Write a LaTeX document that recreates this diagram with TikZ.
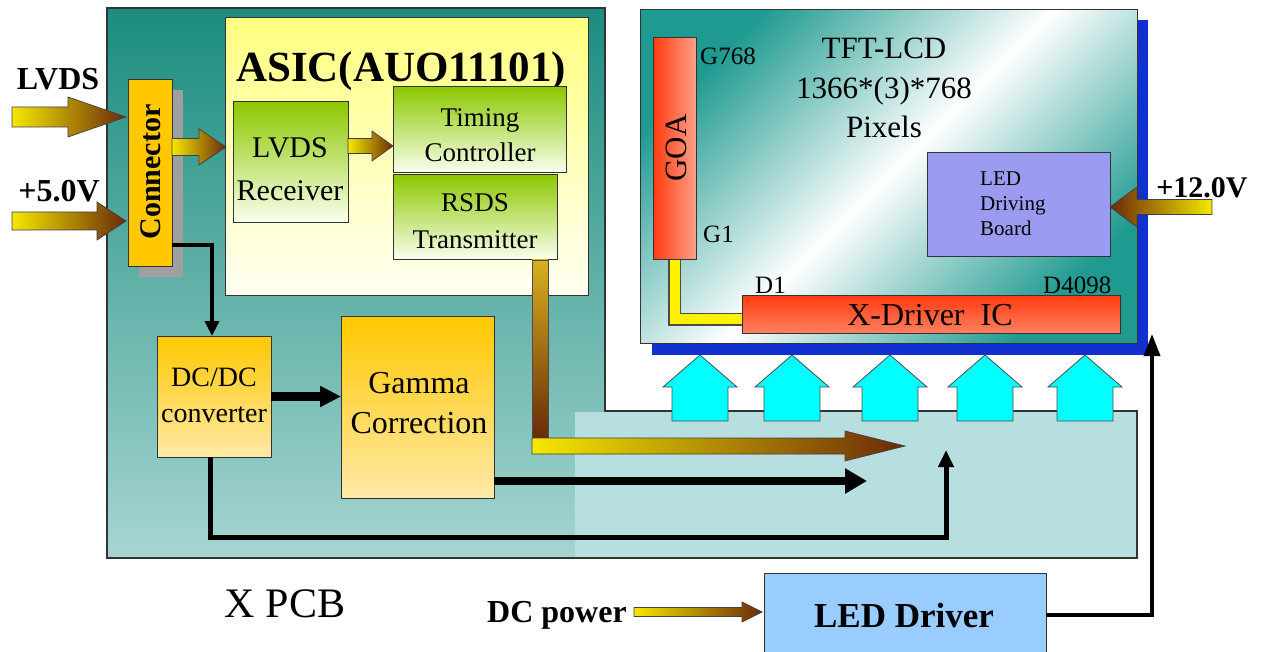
\documentclass[tikz,border=0pt]{standalone}
\usepackage{fontspec}
\setmainfont{Liberation Serif}
\usetikzlibrary{arrows.meta}
\definecolor{pcbtop}{HTML}{1B8C7E}
\definecolor{pcbbot}{HTML}{A6D5D1}
\definecolor{pcbext}{HTML}{B8DFE0}
\definecolor{asictop}{HTML}{FFFF80}
\definecolor{asicbot}{HTML}{FFFFF2}
\definecolor{grtop}{HTML}{8CC800}
\definecolor{grbot}{HTML}{FAFFF0}
\definecolor{ortop}{HTML}{FFC800}
\definecolor{orbot}{HTML}{FFE9A8}
\definecolor{lcdteal}{HTML}{1E9A90}
\definecolor{redl}{HTML}{FF3A10}
\definecolor{redr}{HTML}{FFA088}
\definecolor{redb}{HTML}{FF8060}
\definecolor{ledbd}{HTML}{9B9BF2}
\definecolor{shblue}{HTML}{1030D0}
\definecolor{cyanf}{HTML}{00FFFF}
\definecolor{leddrvc}{HTML}{99CCFF}
\definecolor{ayel}{HTML}{F5E800}
\definecolor{abrn}{HTML}{6A2A08}
\definecolor{rsdstop}{HTML}{D8B020}
\definecolor{edgec}{HTML}{333333}
\newcommand\fsz[2]{\fontsize{#1}{#2}\selectfont}
\newcommand\harr[7]{\shade[#7] (#1,{#3-(#4)}) -- ({#2-(#6)},{#3-(#4)}) -- ({#2-(#6)},{#3-(#5)}) -- (#2,#3) -- ({#2-(#6)},{#3+(#5)}) -- ({#2-(#6)},{#3+(#4)}) -- (#1,{#3+(#4)}) -- cycle;}
\newcommand\uparr[1]{\filldraw[cyanarr] ({#1-28},421) -- ({#1-28},387) -- ({#1-37},387) -- (#1,355) -- ({#1+37},387) -- ({#1+28},387) -- ({#1+28},421) -- cycle;}
\begin{document}
\begin{tikzpicture}[x=1pt,y=-1pt,
  box/.style={draw=edgec,line width=1pt,inner sep=0pt,outer sep=0pt,anchor=north west},
  gradarr/.style={draw=black!75,line width=0.7pt,left color=ayel,right color=abrn},
  gradarrL/.style={draw=black!75,line width=0.7pt,left color=abrn,right color=ayel},
  cyanarr/.style={fill=cyanf,draw=black!70,line width=0.8pt},
  lbl/.style={inner sep=0pt,anchor=base},
  txt/.style={inner sep=0pt,anchor=north,align=center},
]
\useasboundingbox (0,0) rectangle (1263,652);
\fill[white] (0,0) rectangle (1263,652);

% X PCB board
\shade[top color=pcbtop,bottom color=pcbbot] (107,8) -- (605,8) -- (605,411) -- (1137,411) -- (1137,558) -- (107,558) -- cycle;
\fill[pcbext] (575,412) rectangle (1137,558);
\draw[edgec,line width=1.2pt] (107,8) -- (605,8) -- (605,411) -- (1137,411) -- (1137,558) -- (107,558) -- cycle;

% LCD panel
\fill[shblue] (652,20) rectangle (1148,355);
\node[box,minimum width=497pt,minimum height=333pt,top color=lcdteal,bottom color=lcdteal,middle color=white,shading angle=45,draw=edgec] (lcd) at (640,10) {};
\node[box,minimum width=43pt,minimum height=222pt,left color=redl,right color=redr] (goa) at (653,38) {};
\node[inner sep=0pt,rotate=90,font=\fsz{31}{31}] (goatxt) at (676,148) {GOA};
\node[lbl,anchor=base west,font=\fsz{25}{25}] (g768) at (700,65) {G768};
\node[lbl,anchor=base west,font=\fsz{25}{25}] (g1) at (703,243) {G1};
\node[txt,font=\fsz{31}{39.5}] (tft) at (884,38) {TFT-LCD\\1366*(3)*768\\Pixels};
\node[box,minimum width=183pt,minimum height=104pt,fill=ledbd] (ledb) at (927,153) {};
\node[inner sep=0pt,anchor=north west,align=left,font=\fsz{21}{25}] (ledbtxt) at (980,172) {LED\\Driving\\Board};
\node[lbl,anchor=base west,font=\fsz{25}{25}] (d1) at (755,294) {D1};
\node[lbl,anchor=base west,font=\fsz{25}{25}] (d4098) at (1043,294) {D4098};
\node[box,minimum width=378pt,minimum height=38pt,top color=redl,bottom color=redb] (xdrv) at (742,295) {};
\node[lbl,font=\fsz{32}{32}] (xdrvtxt) at (930,325) {X-Driver\ \ IC};
\draw[black!70,line width=13pt] (goa.south) |- ([yshift=-5pt]xdrv.west);
\draw[yellow,line width=10pt] (goa.south) |- ([yshift=-5pt]xdrv.west);

% backlight arrows
\uparr{700}
\uparr{792}
\uparr{890}
\uparr{985}
\uparr{1085}

% ASIC
\node[box,minimum width=363pt,minimum height=277pt,top color=asictop,bottom color=asicbot] (asic) at (225,18) {};
\node[lbl,font=\bfseries\fsz{43}{43}] (asictitle) at (401,82) {ASIC(AUO11101)};
\node[box,minimum width=115pt,minimum height=121pt,top color=grtop,bottom color=grbot] (rcv) at (233,102) {};
\node[txt,font=\fsz{30}{43}] (rcvtxt) at (290,137) {LVDS\\Receiver};
\node[box,minimum width=173pt,minimum height=86pt,top color=grtop,bottom color=grbot] (tcon) at (393,87) {};
\node[txt,font=\fsz{27}{35}] (tcontxt) at (480,108) {Timing\\Controller};
\node[box,minimum width=164pt,minimum height=85pt,top color=grtop,bottom color=grbot] (rsds) at (393,175) {};
\node[txt,font=\fsz{27}{37}] (rsdstxt) at (475,193) {RSDS\\Transmitter};

% connector
\fill[gray!75] (139,90) rectangle (183,277);
\node[box,minimum width=44pt,minimum height=187pt,fill=ortop] (conn) at (128,80) {};
\node[inner sep=0pt,rotate=90,font=\bfseries\fsz{30}{30}] (conntxt) at (151,172) {Connector};

% DC/DC and Gamma
\node[box,minimum width=114pt,minimum height=121pt,top color=ortop,bottom color=orbot] (dcdc) at (157,336) {};
\node[txt,font=\fsz{28}{36}] (dcdctxt) at (214,368) {DC/DC\\converter};
\node[box,minimum width=153pt,minimum height=182pt,top color=ortop,bottom color=orbot] (gamma) at (341,316) {};
\node[txt,font=\fsz{32}{40}] (gammatxt) at (419,372) {Gamma\\Correction};

% input labels and arrows
\node[lbl,font=\bfseries\fsz{32}{32}] (lvdslbl) at (58,90) {LVDS};
\node[lbl,font=\bfseries\fsz{32}{32}] (v5lbl) at (59,202) {+5.0V};
\harr{12}{126}{117}{10}{20}{58}{gradarr}
\harr{12}{126}{221}{9}{19}{29}{gradarr}
\harr{172}{226}{147}{8.5}{18}{27}{gradarr}
\harr{348}{393}{146}{7.5}{15}{21}{gradarr}

% RSDS output bus
\shade[draw=black!70,line width=0.7pt,top color=rsdstop,bottom color=abrn] (532,260) rectangle (548,438);
\harr{532}{905}{446}{8}{15}{60}{gradarr}

% black connectors
\coordinate (gend) at (867,481);
\coordinate (dcend) at (946,450);
\coordinate (ledtip) at (1152,334);
\draw[line width=3.5pt,-{Triangle[length=15pt,width=14pt]}] ([yshift=22pt]conn.south east) -| ([xshift=55pt]dcdc.north west);
\draw[line width=9pt,-{Triangle[length=21pt,width=20pt]}] (dcdc.east) -- (dcdc.east -| gamma.west);
\draw[line width=8pt,-{Triangle[length=22pt,width=24pt]}] ([yshift=17pt]gamma.south east) -- (gend);
\draw[line width=5pt,-{Triangle[length=17pt,width=15pt]}] ([xshift=-4pt]dcdc.south) -- ++(0,80.5) -| (dcend);

% LED driver
\node[box,minimum width=282pt,minimum height=84pt,fill=leddrvc] (leddrv) at (764,573) {};
\node[lbl,font=\bfseries\fsz{35}{35}] (leddrvtxt) at (904,627) {LED Driver};
\draw[line width=3.5pt,-{Triangle[length=22pt,width=16pt]}] (leddrv.east) -| (ledtip);
\node[lbl,font=\bfseries\fsz{32}{32}] (dcpwr) at (557,622) {DC power};
\harr{634}{762}{612}{4.5}{10}{20}{gradarr}
\node[lbl,font=\bfseries\fsz{30}{30}] (v12lbl) at (1202,198) {+12.0V};
\harr{1212}{1110}{207}{7.5}{20}{-27}{gradarrL}

\node[lbl,font=\fsz{42}{42}] (xpcb) at (285,617) {X PCB};
\end{tikzpicture}
\end{document}
